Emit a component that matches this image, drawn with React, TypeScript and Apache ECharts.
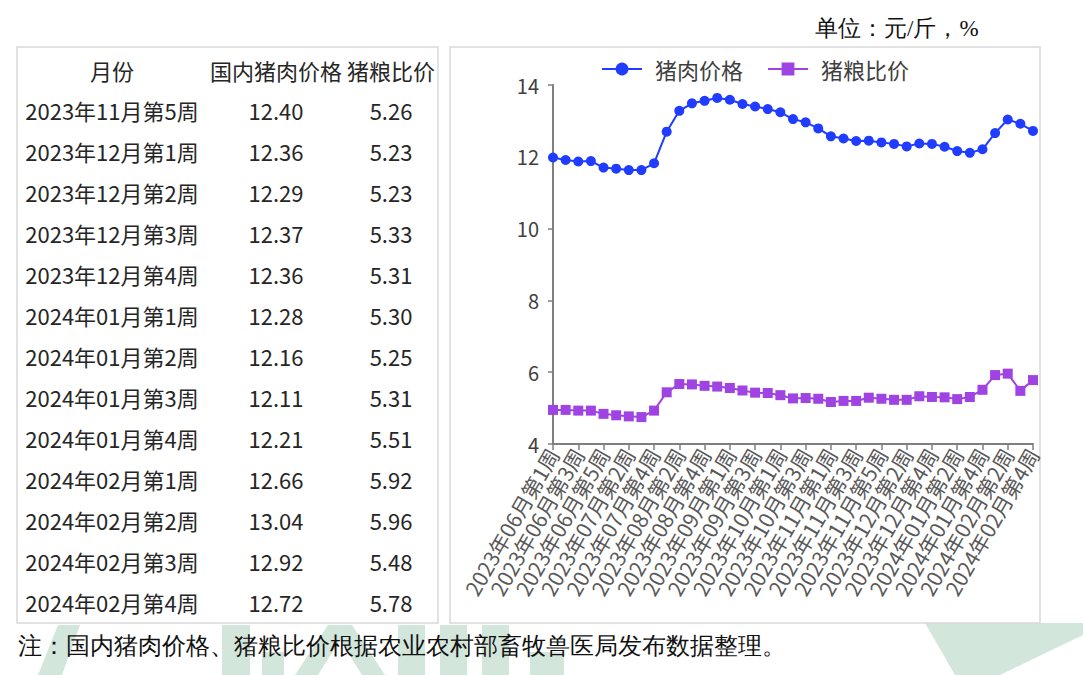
import React, { useEffect, useRef } from "react";
import * as echarts from "echarts";

const categories = [
  "2023年06月第1周", "2023年06月第2周", "2023年06月第3周", "2023年06月第4周", "2023年06月第5周",
  "2023年07月第1周", "2023年07月第2周", "2023年07月第3周", "2023年07月第4周",
  "2023年08月第1周", "2023年08月第2周", "2023年08月第3周", "2023年08月第4周", "2023年08月第5周",
  "2023年09月第1周", "2023年09月第2周", "2023年09月第3周", "2023年09月第4周",
  "2023年10月第1周", "2023年10月第2周", "2023年10月第3周", "2023年10月第4周",
  "2023年11月第1周", "2023年11月第2周", "2023年11月第3周", "2023年11月第4周", "2023年11月第5周",
  "2023年12月第1周", "2023年12月第2周", "2023年12月第3周", "2023年12月第4周",
  "2024年01月第1周", "2024年01月第2周", "2024年01月第3周", "2024年01月第4周",
  "2024年02月第1周", "2024年02月第2周", "2024年02月第3周", "2024年02月第4周",
];

const porkPrice = [
  11.98, 11.91, 11.87, 11.88, 11.70, 11.67, 11.63, 11.63, 11.82, 12.70,
  13.28, 13.49, 13.56, 13.64, 13.59, 13.47, 13.40, 13.33, 13.24, 13.05,
  12.96, 12.79, 12.57, 12.51, 12.44, 12.45, 12.40, 12.36, 12.29, 12.37,
  12.36, 12.28, 12.16, 12.11, 12.21, 12.66, 13.04, 12.92, 12.72,
];

const hogGrainRatio = [
  4.95, 4.95, 4.93, 4.93, 4.84, 4.80, 4.77, 4.75, 4.93, 5.44,
  5.67, 5.66, 5.62, 5.60, 5.56, 5.49, 5.43, 5.42, 5.36, 5.27,
  5.28, 5.26, 5.17, 5.20, 5.20, 5.29, 5.26, 5.23, 5.23, 5.33,
  5.31, 5.30, 5.25, 5.31, 5.51, 5.92, 5.96, 5.48, 5.78,
];

const tableHeader = ["月份", "国内猪肉价格", "猪粮比价"];
const tableStart = 26;
const tableMonths = categories.slice(tableStart);
const tablePrice = porkPrice.slice(tableStart).map((v) => v.toFixed(2));
const tableRatio = hogGrainRatio.slice(tableStart).map((v) => v.toFixed(2));

const seriesNames = ["猪肉价格", "猪粮比价"];
const unitText = "单位：元/斤，%";
const noteText = "注：国内猪肉价格、猪粮比价根据农业农村部畜牧兽医局发布数据整理。";

const FONT = '"Noto Sans CJK SC", "Microsoft YaHei", sans-serif';
const TEXT_COLOR = "#262626";
const BLUE = "#1f3cff";
const PURPLE = "#a043e3";
const WM = "#d3e6db";

export default function App() {
  const ref = useRef<HTMLDivElement>(null);

  useEffect(() => {
    document.body.style.margin = "0";
    const chart = echarts.init(ref.current!, null, { renderer: "svg" });

    const colX = [112, 276, 391];
    const tableTexts: any[] = [];
    tableHeader.forEach((h, c) => {
      tableTexts.push({
        type: "text",
        x: colX[c],
        y: 70,
        style: { text: h, fill: TEXT_COLOR, font: `22px ${FONT}`, align: "center", verticalAlign: "middle" },
      });
    });
    tableMonths.forEach((m, i) => {
      const y = 110 + 41 * i;
      [m, tablePrice[i], tableRatio[i]].forEach((t, c) => {
        tableTexts.push({
          type: "text",
          x: colX[c],
          y,
          style: { text: t, fill: TEXT_COLOR, font: `22px ${FONT}`, align: "center", verticalAlign: "middle" },
        });
      });
    });

    const option: any = {
      animation: false,
      backgroundColor: "#ffffff",
      textStyle: { fontFamily: FONT },
      graphic: [
        // watermark
        { type: "polygon", z: -10, shape: { points: [[58, 625], [80, 625], [62, 675], [38, 675]] }, style: { fill: WM } },
        { type: "rect", z: -10, shape: { x: 222, y: 625, width: 28, height: 50 }, style: { fill: WM } },
        { type: "rect", z: -10, shape: { x: 262, y: 652, width: 22, height: 23 }, style: { fill: WM } },
        { type: "polygon", z: -10, shape: { points: [[295, 675], [328, 625], [352, 625], [385, 675], [362, 675], [340, 640], [318, 675]] }, style: { fill: WM } },
        { type: "rect", z: -10, shape: { x: 398, y: 625, width: 27, height: 50 }, style: { fill: WM } },
        { type: "rect", z: -10, shape: { x: 440, y: 625, width: 27, height: 50 }, style: { fill: WM } },
        { type: "rect", z: -10, shape: { x: 482, y: 625, width: 27, height: 50 }, style: { fill: WM } },
        { type: "rect", z: -10, shape: { x: 530, y: 652, width: 34, height: 23 }, style: { fill: WM } },
        { type: "polygon", z: -10, shape: { points: [[925, 623], [1083, 623], [1083, 635], [1000, 675], [955, 675]] }, style: { fill: WM } },
        // boxes
        { type: "rect", z: -5, shape: { x: 17, y: 47, width: 421, height: 576 }, style: { fill: "#fff", stroke: "#d9d9d9", lineWidth: 1.5 } },
        { type: "rect", z: -5, shape: { x: 450, y: 47, width: 590, height: 576 }, style: { fill: "#fff", stroke: "#d9d9d9", lineWidth: 1.5 } },
        ...tableTexts,
        {
          type: "text",
          x: 815,
          y: 28,
          style: { text: unitText, fill: "#111", font: `23px serif`, verticalAlign: "middle" },
        },
        {
          type: "text",
          x: 18,
          y: 646,
          style: { text: noteText, fill: "#111", font: `24px serif`, verticalAlign: "middle" },
        },
      ],
      legend: {
        top: 53,
        left: 596,
        itemWidth: 40,
        itemHeight: 16,
        itemGap: 24,
        textStyle: { fontSize: 22, color: "#404040", fontFamily: FONT, padding: [0, 0, 0, 8] },
        data: seriesNames,
      },
      grid: { left: 553, right: 50, top: 85, bottom: 231, containLabel: false },
      xAxis: {
        type: "category",
        data: categories,
        boundaryGap: false,
        axisLine: { show: true, lineStyle: { color: "#7f7f7f", width: 2 } },
        axisTick: { show: true, interval: 1, length: 6, lineStyle: { color: "#7f7f7f", width: 1.5 } },
        axisLabel: { interval: 1, rotate: 60, fontSize: 21, color: "#595959", margin: 6, fontFamily: FONT },
        splitLine: { show: false },
      },
      yAxis: {
        type: "value",
        min: 4,
        max: 14,
        interval: 2,
        axisLine: { show: true, lineStyle: { color: "#7f7f7f", width: 2 } },
        axisTick: { show: true, length: 5, lineStyle: { color: "#7f7f7f", width: 1.5 } },
        axisLabel: { fontSize: 20, color: "#404040", margin: 14, fontFamily: FONT },
        splitLine: { show: false },
      },
      series: [
        {
          name: seriesNames[0],
          type: "line",
          data: porkPrice,
          symbol: "circle",
          symbolSize: 10,
          showAllSymbol: true,
          itemStyle: { color: BLUE },
          lineStyle: { color: BLUE, width: 2 },
        },
        {
          name: seriesNames[1],
          type: "line",
          data: hogGrainRatio,
          symbol: "rect",
          symbolSize: 10,
          showAllSymbol: true,
          itemStyle: { color: PURPLE },
          lineStyle: { color: PURPLE, width: 2 },
        },
      ],
    };

    chart.setOption(option);
    return () => chart.dispose();
  }, []);

  return <div ref={ref} style={{ width: 1083, height: 675 }} />;
}
